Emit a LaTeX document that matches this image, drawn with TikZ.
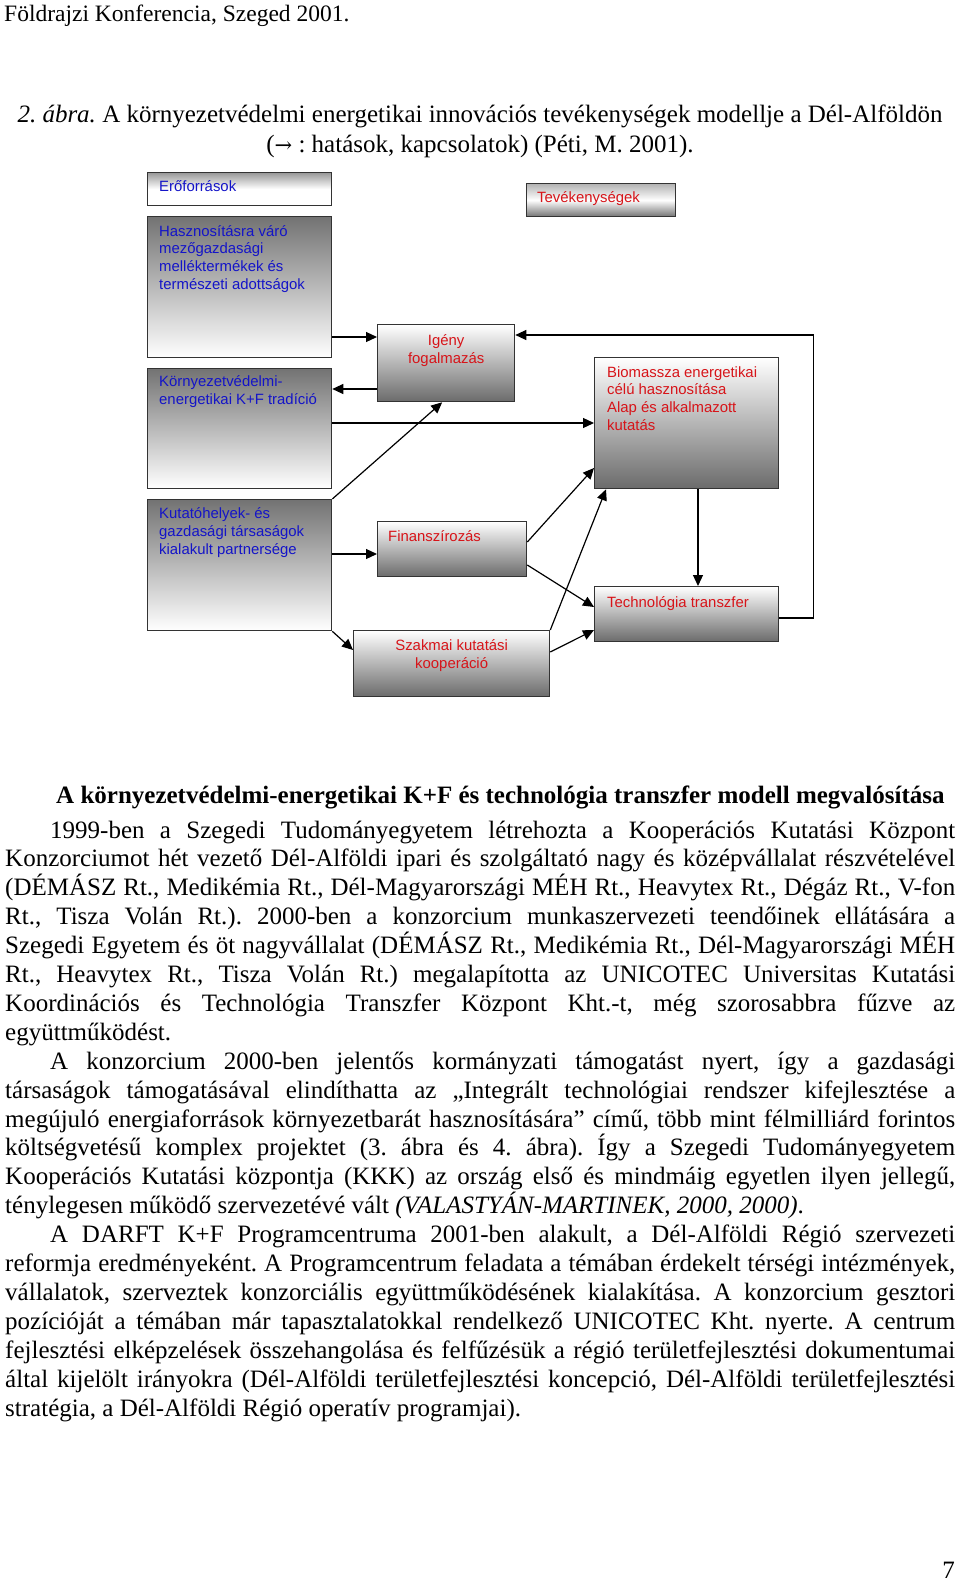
\documentclass[tikz,border=0pt]{standalone}
\usepackage{fontspec}
\setmainfont{Liberation Serif}
\newfontfamily\diagsans{Liberation Sans}
\newfontfamily\arrowfont{DejaVu Serif}
\usetikzlibrary{arrows.meta,positioning}
\definecolor{boxblue}{RGB}{20,20,200}
\definecolor{boxred}{RGB}{215,20,25}
\newcommand\jline[1]{\hbox to 950pt{#1}}
\newcommand\pline[1]{\hbox{#1}}
\frenchspacing

\begin{document}
\begin{tikzpicture}[x=1pt, y=-1pt,
  box/.style={rectangle, draw=black!80, line width=1.3pt, inner sep=0pt, anchor=north west},
  upbox/.style={box, top color=black!55, bottom color=white},
  downbox/.style={box, top color=white, bottom color=black!58},
  btxt/.style={anchor=base west, inner sep=0pt, align=left, text=boxblue, font=\diagsans\fontsize{14.9}{17.6}\selectfont},
  rtxt/.style={btxt, text=boxred},
  link/.style={line width=1.2pt, -{Triangle[length=11pt, width=10pt]}},
  body/.style={anchor=base west, inner sep=0pt, font=\fontsize{25}{28.9}\selectfont}]
\useasboundingbox[fill=white] (0,0) rectangle (960,1581);

\node[body, font=\fontsize{23.5}{27}\selectfont] (header) at (4,22) {Földrajzi Konferencia, Szeged 2001.};
\node[body, anchor=base] (caption) at (480,123) {\textit{2. ábra.} A környezetvédelmi energetikai innovációs tevékenységek modellje a Dél-Alföldön};
\node[body, anchor=base] (legend) at (480,153) {({\arrowfont\fontsize{21}{22}\selectfont →} : hatások, kapcsolatok) (Péti, M. 2001).};

\node[upbox, minimum width=184, minimum height=33, top color=black!40, bottom color=white, middle color=white] (eroforras) at (147,172) {};
\node[upbox, minimum width=184, minimum height=141] (hasznositas) at (147,216) {};
\node[downbox, minimum width=149, minimum height=33, top color=black!30, bottom color=black!55, middle color=white] (tevekenyseg) at (526,183) {};
\node[downbox, minimum width=137, minimum height=77] (igeny) at (377,324) {};
\node[upbox, minimum width=184, minimum height=120] (kornyezet) at (147,368) {};
\node[downbox, minimum width=184, minimum height=131] (biomassza) at (594,357) {};
\node[upbox, minimum width=184, minimum height=131] (kutato) at (147,499) {};
\node[downbox, minimum width=149, minimum height=55] (finansz) at (377,521) {};
\node[downbox, minimum width=184, minimum height=55] (techno) at (594,586) {};
\node[downbox, minimum width=196, minimum height=66] (szakmai) at (353,630) {};

\node[btxt] (eroforrastxt) at ([shift={(12,20)}]eroforras.north west) {Erőforrások};
\node[btxt] (hasznositastxt) at ([shift={(12,73)}]hasznositas.north west) {Hasznosításra váró\\mezőgazdasági\\melléktermékek és\\természeti adottságok};
\node[rtxt] (tevekenysegtxt) at ([shift={(11,20)}]tevekenyseg.north west) {Tevékenységek};
\node[rtxt, anchor=base, align=center] (igenytxt) at ([shift={(0,39)}]igeny.north) {Igény\\fogalmazás};
\node[btxt] (kornyezettxt) at ([shift={(12,36)}]kornyezet.north west) {Környezetvédelmi-\\energetikai K+F tradíció};
\node[rtxt] (biomasszatxt) at ([shift={(13,73)}]biomassza.north west) {Biomassza energetikai\\célú hasznosítása\\Alap és alkalmazott\\kutatás};
\node[btxt] (kutatotxt) at ([shift={(12,55)}]kutato.north west) {Kutatóhelyek- és\\gazdasági társaságok\\kialakult partnersége};
\node[rtxt] (finansztxt) at ([shift={(11,20)}]finansz.north west) {Finanszírozás};
\node[rtxt] (technotxt) at ([shift={(13,21)}]techno.north west) {Technológia transzfer};
\node[rtxt, anchor=base, align=center] (szakmaitxt) at ([shift={(0,38)}]szakmai.north) {Szakmai kutatási\\kooperáció};

\draw[link] ([shift={(0,121)}]hasznositas.north east) -- ([shift={(0,13)}]igeny.north west);
\draw[link] ([shift={(0,65)}]igeny.north west) -- ([shift={(0,21)}]kornyezet.north east);
\draw[link] ([shift={(0,55)}]kornyezet.north east) -- ([shift={(0,66)}]biomassza.north west);
\draw[link] (kutato.north east) -- ([shift={(-4,0)}]igeny.south);
\draw[link] ([shift={(0,55)}]kutato.north east) -- ([shift={(0,33)}]finansz.north west);
\draw[link] (kutato.south east) -- ([shift={(0,20)}]szakmai.north west);
\draw[link] ([shift={(0,21)}]finansz.north east) -- ([shift={(0,111)}]biomassza.north west);
\draw[link] ([shift={(0,44)}]finansz.north east) -- ([shift={(0,21)}]techno.north west);
\draw[link] (szakmai.north east) -- ([shift={(12,0)}]biomassza.south west);
\draw[link] ([shift={(0,22)}]szakmai.north east) -- ([shift={(0,44)}]techno.north west);
\draw[link] ([shift={(104,0)}]biomassza.south west) -- ([shift={(104,0)}]techno.north west);
\draw[link] ([shift={(0,32)}]techno.north east) -- ++(34,0) |- ([shift={(0,11)}]igeny.north east);

\node[body, font=\fontsize{25}{28.9}\selectfont\bfseries] (heading) at (56,803) {A környezetvédelmi-energetikai K+F és technológia transzfer modell megvalósítása};
\node[body] (maintext) at (5,838) {\vtop{\baselineskip=28.9pt
\jline{\hskip45pt 1999-ben a Szegedi Tudományegyetem létrehozta a Kooperációs Kutatási Központ}
\jline{Konzorciumot hét vezető Dél-Alföldi ipari és szolgáltató nagy és középvállalat részvételével}
\jline{(DÉMÁSZ Rt., Medikémia Rt., Dél-Magyarországi MÉH Rt., Heavytex Rt., Dégáz Rt., V-fon}
\jline{Rt., Tisza Volán Rt.). 2000-ben a konzorcium munkaszervezeti teendőinek ellátására a}
\jline{Szegedi Egyetem és öt nagyvállalat (DÉMÁSZ Rt., Medikémia Rt., Dél-Magyarországi MÉH}
\jline{Rt., Heavytex Rt., Tisza Volán Rt.) megalapította az UNICOTEC Universitas Kutatási}
\jline{Koordinációs és Technológia Transzfer Központ Kht.-t, még szorosabbra fűzve az}
\pline{együttműködést.}
\jline{\hskip45pt A konzorcium 2000-ben jelentős kormányzati támogatást nyert, így a gazdasági}
\jline{társaságok támogatásával elindíthatta az „Integrált technológiai rendszer kifejlesztése a}
\jline{megújuló energiaforrások környezetbarát hasznosítására” című, több mint félmilliárd forintos}
\jline{költségvetésű komplex projektet (3. ábra és 4. ábra). Így a Szegedi Tudományegyetem}
\jline{Kooperációs Kutatási központja (KKK) az ország első és mindmáig egyetlen ilyen jellegű,}
\pline{ténylegesen működő szervezetévé vált \textit{(VALASTYÁN-MARTINEK, 2000, 2000)}.}
\jline{\hskip45pt A DARFT K+F Programcentruma 2001-ben alakult, a Dél-Alföldi Régió szervezeti}
\jline{reformja eredményeként. A Programcentrum feladata a témában érdekelt térségi intézmények,}
\jline{vállalatok, szerveztek konzorciális együttműködésének kialakítása. A konzorcium gesztori}
\jline{pozícióját a témában már tapasztalatokkal rendelkező UNICOTEC Kht. nyerte. A centrum}
\jline{fejlesztési elképzelések összehangolása és felfűzésük a régió területfejlesztési dokumentumai}
\jline{által kijelölt irányokra (Dél-Alföldi területfejlesztési koncepció, Dél-Alföldi területfejlesztési}
\pline{stratégia, a Dél-Alföldi Régió operatív programjai).}
}};
\node[body, anchor=base east] (pagenum) at (955,1578) {7};
\end{tikzpicture}
\end{document}
